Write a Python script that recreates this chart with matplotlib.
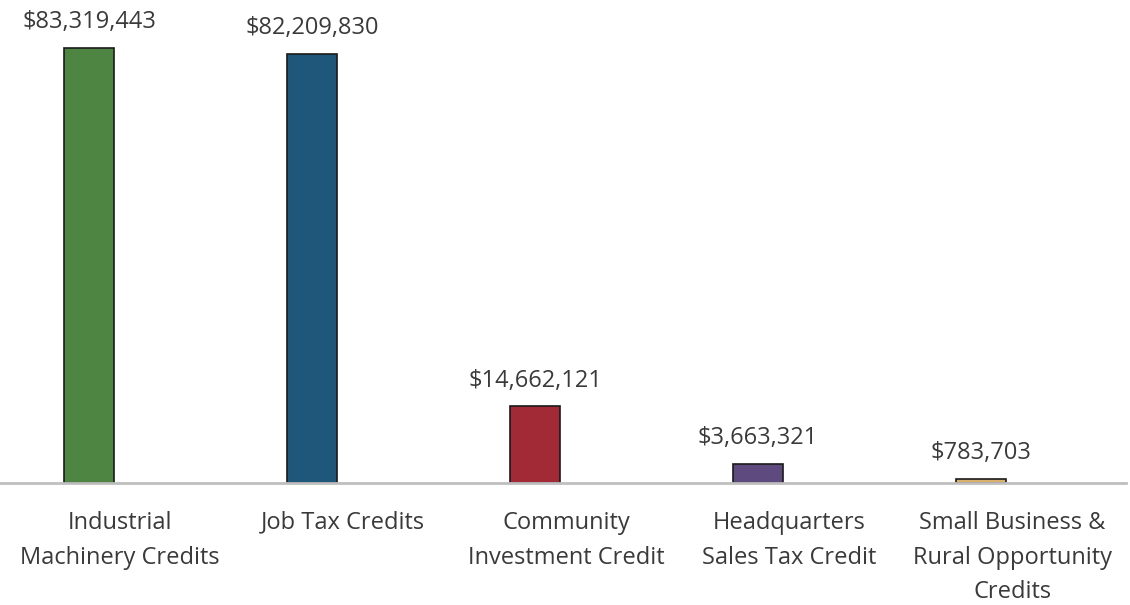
import matplotlib.pyplot as plt
from matplotlib.ticker import NullLocator
from matplotlib.transforms import ScaledTranslation

categories = ["Industrial\nMachinery Credits", "Job Tax Credits",
              "Community\nInvestment Credit", "Headquarters\nSales Tax Credit",
              "Small Business &\nRural Opportunity\nCredits"]
values = [83319443, 82209830, 14662121, 3663321, 783703]
colors = ["#4E8542", "#1F577A", "#A12A36", "#5E4A7E", "#D9AF6B"]

plt.rcParams["font.family"] = ["Open Sans", "DejaVu Sans"]
text_color = "#3a3a3a"

fig = plt.figure(figsize=(11.3, 6.05), dpi=100)
ax = fig.add_axes([0.0, 122 / 605, 1126 / 1130, 483 / 605])

x = range(len(values))
bars = ax.bar(x, values, width=0.225, color=colors, edgecolor="#1a1a1a", linewidth=1.2, zorder=2)

for b, v in zip(bars, values):
    ax.annotate(f"${v:,.0f}", (b.get_x() + b.get_width() / 2, v),
                xytext=(0, 10), textcoords="offset points",
                ha="center", va="bottom", fontsize=17, color=text_color)

ax.set_xlim(-0.4, 4.65)
ax.set_ylim(0, 92.5e6)
ax.set_xticks(list(x))
ax.set_xticklabels(categories, fontsize=17, color=text_color, linespacing=1.6, va="top")
ax.tick_params(axis="x", length=0, pad=20)
# category labels sit a little right of their bars
shift = ScaledTranslation(0.31, 0, fig.dpi_scale_trans)
for lbl in ax.get_xticklabels():
    lbl.set_transform(lbl.get_transform() + shift)
ax.yaxis.set_major_locator(NullLocator())
for s in ["top", "right", "left"]:
    ax.spines[s].set_visible(False)
ax.spines["bottom"].set_color("#bfbfbf")
ax.spines["bottom"].set_linewidth(2)
ax.spines["bottom"].set_zorder(3)

fig.savefig("out.png", dpi=100)
